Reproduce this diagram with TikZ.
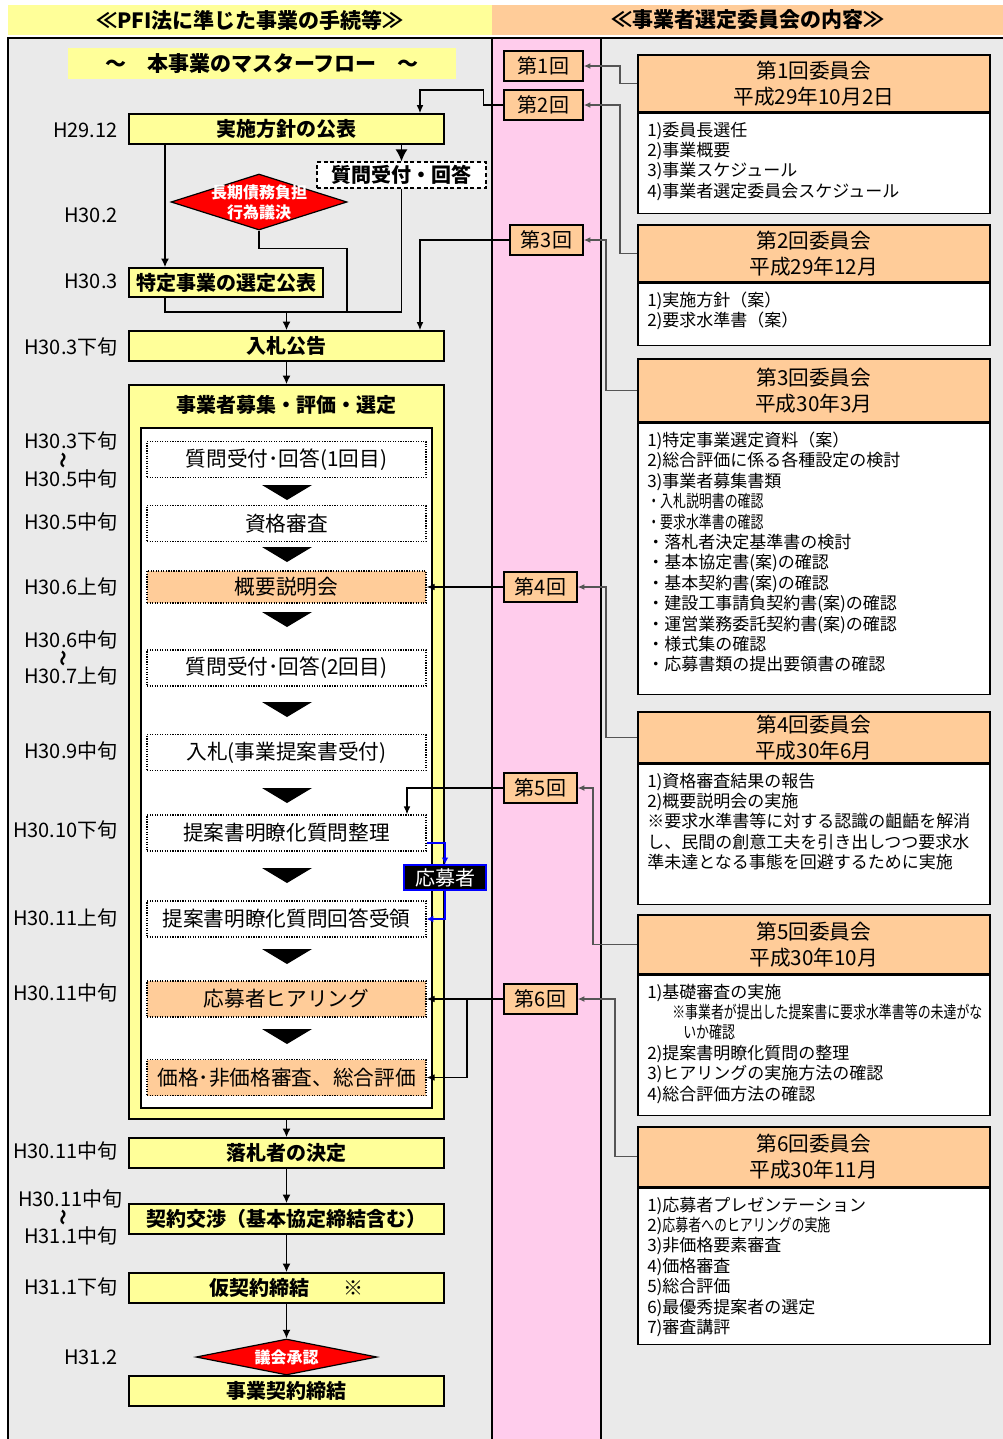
\documentclass[tikz,border=0pt]{standalone}
\usepackage{fontspec}
\setmainfont{Noto Sans CJK JP}
\usepackage{graphicx}
\usetikzlibrary{shapes.geometric,arrows.meta}

\definecolor{flowyellow}{HTML}{FFFF99}
\definecolor{meetorange}{HTML}{FFCC99}
\definecolor{bandpink}{HTML}{FFCCEC}
\definecolor{panelgray}{HTML}{EAEAEA}
\definecolor{linegray}{HTML}{555555}

\newcommand\headfont{\fontsize{15.75}{18}\selectfont\bfseries}
\newcommand\flowfont{\fontsize{15}{18}\selectfont\bfseries}
\newcommand\stepfont{\fontsize{15.5}{18}\selectfont}
\newcommand\datefont{\fontsize{15}{18}\selectfont}
\newcommand\meetfont{\fontsize{15.5}{19.5}\selectfont}
\newcommand\listfont{\fontsize{12.75}{15.3}\selectfont}
\newcommand\narrow[1]{\scalebox{0.76}[1]{#1}}

\tikzset{
	sz/.style 2 args={minimum width=#1*0.75pt, minimum height=#2*0.75pt},
	flowbox/.style={draw, line width=1.2pt, fill=flowyellow, inner sep=0pt, font=\flowfont},
	qabox/.style={draw, dash pattern=on 3pt off 2pt, line width=0.9pt, fill=white, inner sep=0pt, font=\flowfont},
	stepbox/.style={draw, densely dotted, line width=0.9pt, fill=white, sz={279}{36}, inner sep=0pt, font=\stepfont},
	stepboxhl/.style={stepbox, fill=meetorange},
	redgate/.style={diamond, draw, line width=0.9pt, fill=red, inner sep=0pt},
	gatetext/.style={text=white, align=center, inner sep=0pt, font=\fontsize{12}{15}\selectfont\bfseries},
	datelbl/.style={anchor=east, inner sep=0pt, font=\datefont},
	wave/.style={rotate=90, inner sep=0pt, font=\fontsize{12}{12}\selectfont\bfseries},
	roundbox/.style={draw, line width=1.1pt, fill=meetorange, inner sep=0pt, font=\fontsize{15}{18}\selectfont},
	meethead/.style={draw, line width=1.2pt, fill=meetorange, inner sep=0pt, align=center, font=\meetfont, sz={352}{#1}, anchor=north west},
	meetbody/.style={draw, line width=1.2pt, fill=white, inner sep=0pt, sz={352}{#1}, anchor=north},
	meettext/.style={anchor=north west, align=left, inner sep=0pt, font=\listfont},
	flowline/.style={line width=1.1pt, -{Latex[length=6.5pt,width=6pt]}},
	plainline/.style={line width=1.1pt},
	roundline/.style={line width=0.9pt, -{Latex[length=6pt,width=5pt]}},
	meetline/.style={draw=linegray, line width=1pt, -{Latex[length=5pt,width=4.5pt]}},
	appline/.style={blue, line width=0.9pt, -{Latex[length=5pt,width=5pt]}}
}

\begin{document}
\begin{tikzpicture}[x=0.75pt, y=-0.75pt]
	\useasboundingbox (0,0) rectangle (1003,1439);
	\fill[panelgray] (8,38) rectangle (1003,1439);
	\fill[bandpink] (492,38) rectangle (601,1439);
	\draw[line width=1pt] (1003,38) -- (8,38) -- (8,1439);
	\draw[line width=1pt] (492,38) -- (492,1439);
	\draw[line width=1pt] (601,38) -- (601,1439);

	\node[fill=flowyellow, sz={484}{30}, inner sep=0pt, font=\headfont] (hdrflow) at (250,20) {≪PFI法に準じた事業の手続等≫};
	\node[fill=meetorange, sz={511}{30}, inner sep=0pt, font=\headfont] (hdrmeet) at (747.5,20) {≪事業者選定委員会の内容≫};
	\node[fill=flowyellow, sz={388}{31}, inner sep=0pt, font=\headfont] (master) at (262,63.5) {〜　本事業のマスターフロー　〜};

	% dates
	\foreach \y/\d in {130/H29.12, 215/H30.2, 281/H30.3, 347/H30.3下旬, 441/H30.3下旬, 479/H30.5中旬, 522/H30.5中旬, 587/H30.6上旬, 640/H30.6中旬, 676/H30.7上旬, 751/H30.9中旬, 830/H30.10下旬, 918/H30.11上旬, 993/H30.11中旬, 1151/H30.11中旬, 1236/H31.1中旬, 1287/H31.1下旬, 1357/H31.2}
		\node[datelbl] (d\y) at (118,\y) {\d};
	\node[datelbl] (d1199) at (123,1199) {H30.11中旬};
	\foreach \y in {460,658,1217}
		\node[wave] (w\y) at (65,\y) {〜};

	% flow
	\node[flowbox, sz={315}{30}] (pub) at (286.5,129) {実施方針の公表};
	\node[qabox, sz={169}{26}] (qa0) at (401.5,175) {質問受付・回答};
	\node[redgate, sz={176}{56}] (debt) at (259,202) {};
	\node[gatetext] (debttxt) at (debt) {長期債務負担\\行為議決};
	\node[flowbox, sz={194}{29}] (sel) at (226,282.5) {特定事業の選定公表};
	\node[flowbox, sz={315}{30}] (bid) at (286.5,346) {入札公告};

	\node[flowbox, sz={315}{734}] (big) at (286.5,752) {};
	\node[font=\flowfont, inner sep=0pt] (bigtitle) at (286.5,405) {事業者募集・評価・選定};
	\draw[line width=1.1pt, fill=white] (141,428) rectangle (432,1108);

	\node[stepbox] (s1) at (286.5,459.5) {質問受付･回答(1回目)};
	\node[stepbox] (s2) at (286.5,523.5) {資格審査};
	\node[stepboxhl, sz={279}{32}] (s3) at (286.5,587) {概要説明会};
	\node[stepbox] (s4) at (286.5,668) {質問受付･回答(2回目)};
	\node[stepbox] (s5) at (286.5,752.5) {入札(事業提案書受付)};
	\node[stepbox] (s6) at (286.5,833) {提案書明瞭化質問整理};
	\node[stepbox] (s7) at (286.5,919) {提案書明瞭化質問回答受領};
	\node[stepboxhl] (s8) at (286.5,999) {応募者ヒアリング};
	\node[stepboxhl] (s9) at (286.5,1077.5) {価格･非価格審査、総合評価};
	\foreach \ty in {485,547,612,702,788,868,949,1029}
		\fill (262,\ty) -- (312,\ty) -- (287,\ty+15) -- cycle;

	\node[flowbox, sz={315}{30}] (win) at (286.5,1153) {落札者の決定};
	\node[flowbox, sz={315}{30}] (neg) at (286.5,1219) {契約交渉（基本協定締結含む）};
	\node[flowbox, sz={315}{30}] (prov) at (286.5,1288) {仮契約締結\hspace{1.7em}※};
	\node[redgate, sz={181}{36}] (council) at (286.5,1357) {};
	\node[gatetext] (counciltxt) at (council) {議会承認};
	\node[flowbox, sz={315}{30}] (contract) at (286.5,1391) {事業契約締結};

	\node[draw=blue, line width=1.2pt, fill=black, text=white, sz={82}{25}, inner sep=0pt, font=\fontsize{15}{18}\selectfont] (app) at (445,877.5) {応募者};

	% rounds
	\node[roundbox, sz={79}{30}] (r1) at (543.5,66) {第1回};
	\node[roundbox, sz={79}{30}] (r2) at (543.5,105) {第2回};
	\node[roundbox, sz={73}{30}] (r3) at (546.5,240) {第3回};
	\node[roundbox, sz={73}{30}] (r4) at (540.5,587) {第4回};
	\node[roundbox, sz={73}{30}] (r5) at (540.5,788) {第5回};
	\node[roundbox, sz={73}{30}] (r6) at (540.5,999) {第6回};

	% committees
	\node[meethead=57] (c1h) at (637,54) {第1回委員会\\平成29年10月2日};
	\node[meetbody=100] (c1b) at (c1h.south) {};
	\node[meettext] (c1t) at ([shift={(10,9)}]c1b.north west) {1)委員長選任\\2)事業概要\\3)事業スケジュール\\4)事業者選定委員会スケジュール};

	\node[meethead=57] (c2h) at (637,224) {第2回委員会\\平成29年12月};
	\node[meetbody=62] (c2b) at (c2h.south) {};
	\node[meettext] (c2t) at ([shift={(10,9)}]c2b.north west) {1)実施方針（案）\\2)要求水準書（案）};

	\node[meethead=63] (c3h) at (637,358) {第3回委員会\\平成30年3月};
	\node[meetbody=271] (c3b) at (c3h.south) {};
	\node[meettext] (c3t) at ([shift={(10,9)}]c3b.north west) {1)特定事業選定資料（案）\\2)総合評価に係る各種設定の検討\\3)事業者募集書類\\\narrow{・入札説明書の確認}\\\narrow{・要求水準書の確認}\\・落札者決定基準書の検討\\・基本協定書(案)の確認\\・基本契約書(案)の確認\\・建設工事請負契約書(案)の確認\\・運営業務委託契約書(案)の確認\\・様式集の確認\\・応募書類の提出要領書の確認};

	\node[meethead=51] (c4h) at (637,711) {第4回委員会\\平成30年6月};
	\node[meetbody=140] (c4b) at (c4h.south) {};
	\node[meettext] (c4t) at ([shift={(10,9)}]c4b.north west) {1)資格審査結果の報告\\2)概要説明会の実施\\※要求水準書等に対する認識の齟齬を解消\\し、民間の創意工夫を引き出しつつ要求水\\準未達となる事態を回避するために実施};

	\node[meethead=59] (c5h) at (637,914) {第5回委員会\\平成30年10月};
	\node[meetbody=140] (c5b) at (c5h.south) {};
	\node[meettext] (c5t) at ([shift={(10,9)}]c5b.north west) {1)基礎審査の実施\\\hspace*{18.75pt}\narrow{※事業者が提出した提案書に要求水準書等の未達がな}\\\hspace*{27pt}\narrow{いか確認}\\2)提案書明瞭化質問の整理\\3)ヒアリングの実施方法の確認\\4)総合評価方法の確認};

	\node[meethead=60] (c6h) at (637,1126) {第6回委員会\\平成30年11月};
	\node[meetbody=156] (c6b) at (c6h.south) {};
	\node[meettext] (c6t) at ([shift={(10,9)}]c6b.north west) {1)応募者プレゼンテーション\\2)\narrow{応募者へのヒアリングの実施}\\3)非価格要素審査\\4)価格審査\\5)総合評価\\6)最優秀提案者の選定\\7)審査講評};

	% connectors
	\coordinate (xl) at (165,297);
	\coordinate (mrg) at (286.5,312);
	\coordinate (jd) at (347,312);
	\coordinate (j2) at (420,90);
	\coordinate (j5) at (407,788);
	\coordinate (j6) at (467,999);

	\draw[line width=1.1pt, -{Latex[length=9pt,width=9pt]}] (pub.south -| qa0.north) -- (qa0.north);
	\draw[flowline] (pub.south -| xl) -- (sel.north -| xl);
	\draw[plainline] (sel.south -| xl) |- (qa0.south |- mrg) -- (qa0.south);
	\draw[plainline] (debt.south) -- ++(0,18) -| (jd);
	\draw[flowline] (mrg) -- (bid.north);
	\draw[flowline] (bid.south) -- (big.north);
	\draw[flowline] (big.south) -- (win.north);
	\draw[flowline] (win.south) -- (neg.north);
	\draw[flowline] (neg.south) -- (prov.north);
	\draw[flowline] (prov.south) -- (council.north);

	\draw[roundline] (r2.west) -- ++(-20,0) |- (j2) -- (j2 |- pub.north);
	\draw[roundline] (r3.west) -| (j2 |- bid.north);
	\draw[roundline] (r4.west) -- (s3.east);
	\draw[roundline] (r5.west) -| (j5 |- s6.north);
	\draw[roundline] (r6.west) -- (s8.east);
	\draw[roundline] (j6) |- (s9.east);
	\draw[appline] ([shift={(0,10)}]s6.east) -| (app.north);
	\draw[appline] (app.south) |- (s7.east);

	\draw[meetline] (c1h.west) -- ++(-17,0) |- (r1.east);
	\draw[meetline] (c2h.west) -- ++(-17,0) |- (r2.east);
	\draw[meetline] (c3h.west) -- ++(-31,0) |- (r3.east);
	\draw[meetline] (c4h.west) -- ++(-31,0) |- (r4.east);
	\draw[meetline] (c5h.west) -- ++(-44,0) |- (r5.east);
	\draw[meetline] (c6h.west) -- ++(-22,0) |- (r6.east);
\end{tikzpicture}
\end{document}
